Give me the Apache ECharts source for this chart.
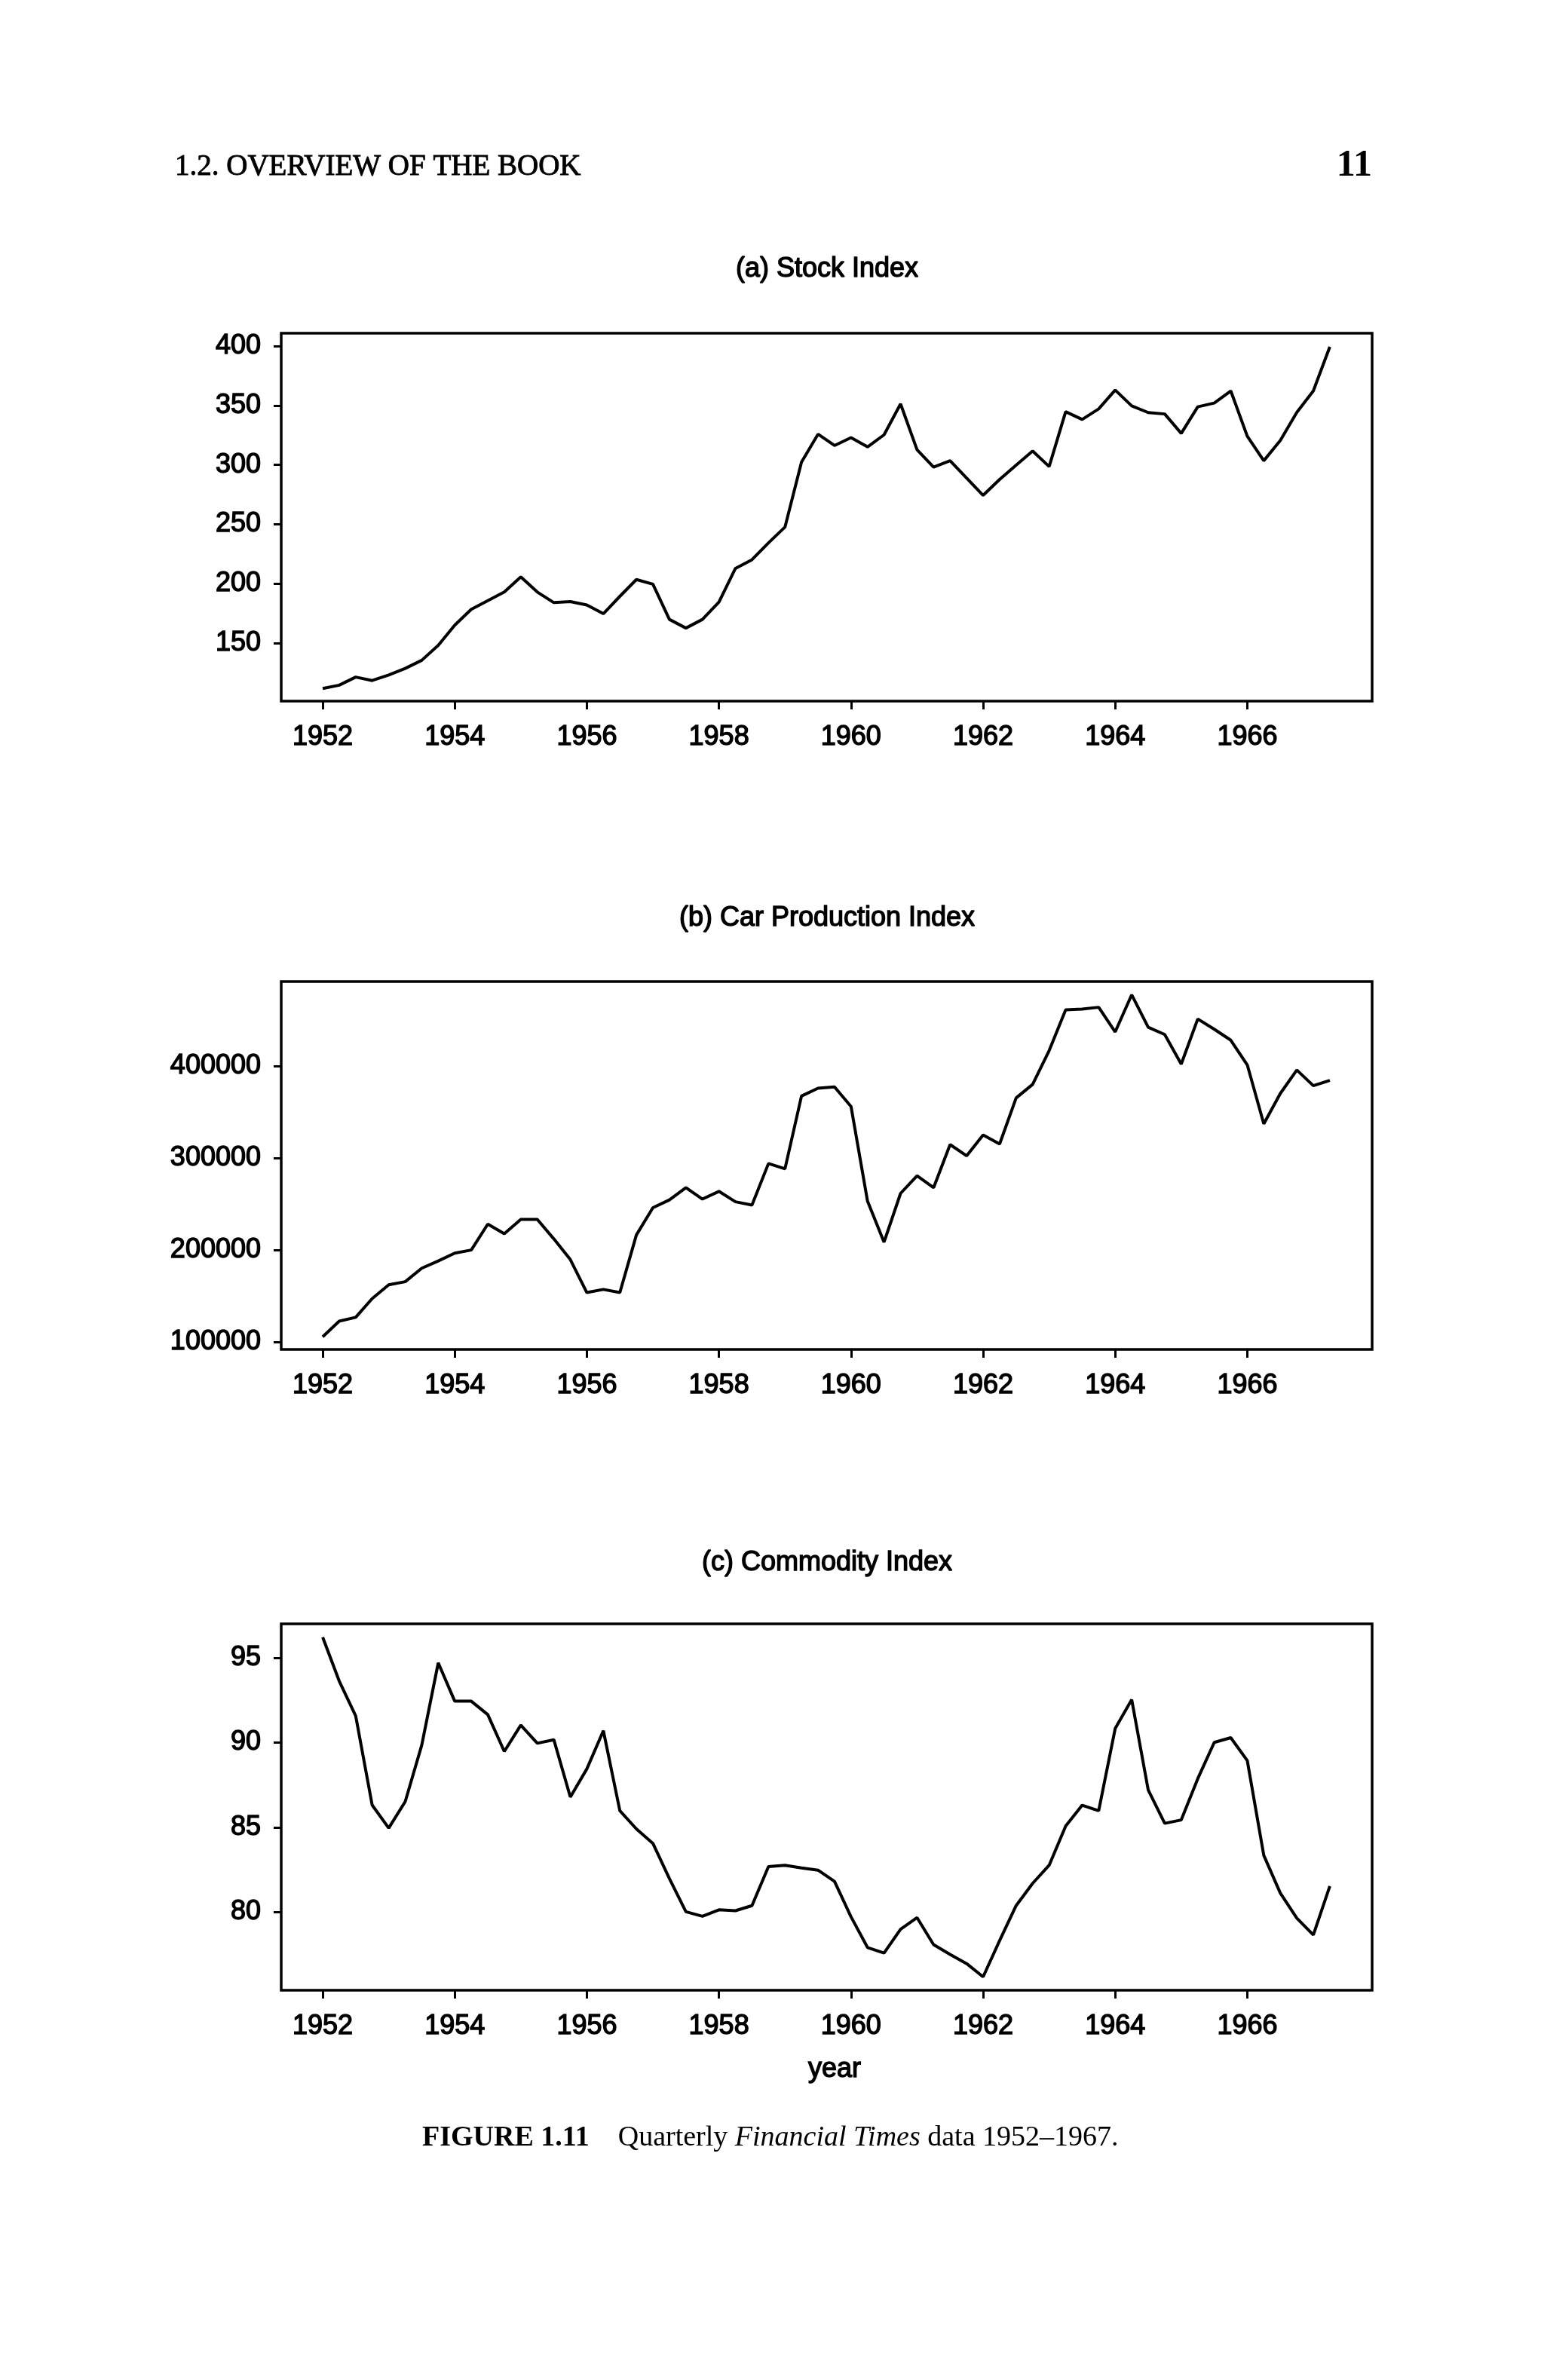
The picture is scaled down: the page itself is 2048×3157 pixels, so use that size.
<!DOCTYPE html>
<html>
<head>
<meta charset="utf-8">
<script src="https://cdn.jsdelivr.net/npm/echarts@6/dist/echarts.min.js"></script>
<style>
html,body{margin:0;padding:0;background:#fff;}
#chart{width:2048px;height:3157px;}
</style>
</head>
<body>
<div id="chart"></div>
<script>
// Quarterly time index (years)
const quarters = [
  1952.00,1952.25,1952.50,1952.75,1953.00,1953.25,1953.50,1953.75,
  1954.00,1954.25,1954.50,1954.75,1955.00,1955.25,1955.50,1955.75,
  1956.00,1956.25,1956.50,1956.75,1957.00,1957.25,1957.50,1957.75,
  1958.00,1958.25,1958.50,1958.75,1959.00,1959.25,1959.50,1959.75,
  1960.00,1960.25,1960.50,1960.75,1961.00,1961.25,1961.50,1961.75,
  1962.00,1962.25,1962.50,1962.75,1963.00,1963.25,1963.50,1963.75,
  1964.00,1964.25,1964.50,1964.75,1965.00,1965.25,1965.50,1965.75,
  1966.00,1966.25,1966.50,1966.75,1967.00,1967.25
];
const stockIndex = [
  112, 114.8, 121.6, 118.7, 123.3, 128.9, 135.7, 148.3, 165.3, 178.6,
  185.9, 193.1, 205.8, 193.1, 184.2, 185.1, 182.2, 174.9, 189.5, 203.6,
  199.7, 170.1, 162.8, 170.1, 184.7, 213.0, 220.3, 234.4, 247.7, 302.3,
  325.8, 316.3, 322.9, 315.1, 325.3, 351.3, 312.7, 298.1, 303.5, 288.9,
  274.4, 287.7, 299.8, 311.7, 298.6, 344.7, 338.2, 347.1, 362.9, 349.6,
  344.0, 342.8, 326.5, 348.8, 352.0, 362.2, 324.1, 303.5, 320.5, 344.2,
  362.2, 399.3
];
const carProduction = [
  105600, 122600, 126800, 147200, 162100, 165500, 180200, 188100, 196600, 200000,
  228200, 217800, 233300, 233300, 212100, 189600, 153700, 157100, 153700, 216400,
  246000, 254500, 267800, 255400, 263800, 252500, 248900, 294100, 288400, 367500,
  376000, 377400, 356200, 253100, 208500, 261600, 280800, 267800, 314700, 302500,
  325100, 315300, 365500, 380200, 417000, 461300, 462200, 464100, 437300, 477700,
  442400, 434500, 402300, 451400, 440200, 428300, 401400, 337300, 370300, 395800,
  378800, 384500
];
const commodityIndex = [
  96.2, 93.62, 91.56, 86.30, 84.95, 86.51, 89.84, 94.69, 92.43, 92.43,
  91.64, 89.47, 91.02, 89.95, 90.16, 86.78, 88.44, 90.69, 85.97, 84.90,
  84.05, 81.97, 80.02, 79.75, 80.13, 80.08, 80.38, 82.68, 82.76, 82.60,
  82.47, 81.81, 79.72, 77.91, 77.58, 78.98, 79.67, 78.08, 77.50, 76.96,
  76.18, 78.32, 80.38, 81.69, 82.76, 85.07, 86.30, 85.97, 90.82, 92.52,
  87.20, 85.23, 85.43, 87.86, 90.00, 90.28, 88.93, 83.34, 81.12, 79.64,
  78.65, 81.53
];
const xTicks = [1952, 1954, 1956, 1958, 1960, 1962, 1964, 1966];
const stockTicks = [150, 200, 250, 300, 350, 400];
const carTicks = [100000, 200000, 300000, 400000];
const commodityTicks = [80, 85, 90, 95];
const panelTitles = ['(a) Stock Index', '(b) Car Production Index', '(c) Commodity Index'];

const chart = echarts.init(document.getElementById('chart'), null, {renderer: 'canvas', width: 2048, height: 3157});

const SANS = '"Liberation Sans", Arial, Helvetica, sans-serif';
const SERIF = '"Liberation Serif", "Times New Roman", serif';
const LEFT = 373, RIGHT = 2048 - 1820;
const grids = [
  {left: LEFT, right: RIGHT, top: 442, height: 488},
  {left: LEFT, right: RIGHT, top: 1302, height: 488},
  {left: LEFT, right: RIGHT, top: 2154, height: 486}
];
const yRanges = [[101.4, 410.7], [91800, 492100], [75.39, 96.99]];
const yTickSets = [stockTicks, carTicks, commodityTicks];
const seriesData = [stockIndex, carProduction, commodityIndex];

const labelStyle = {
  color: '#000', fontFamily: SANS, fontSize: 36,
  textBorderColor: '#000', textBorderWidth: 1.4
};

const option = {
  animation: false,
  backgroundColor: '#fff',
  grid: grids.map(g => Object.assign({show: true, borderColor: '#000', borderWidth: 3.5, backgroundColor: 'transparent'}, g)),
  xAxis: grids.map((g, i) => ({
    type: 'value', gridIndex: i, min: 1951.372, max: 1967.89,
    axisLine: {show: false},
    splitLine: {show: false},
    axisTick: {show: true, inside: false, length: 11, customValues: xTicks, lineStyle: {color: '#000', width: 3}},
    axisLabel: Object.assign({show: true, margin: 30, customValues: xTicks, formatter: v => String(v)}, labelStyle)
  })),
  yAxis: grids.map((g, i) => ({
    type: 'value', gridIndex: i, min: yRanges[i][0], max: yRanges[i][1],
    axisLine: {show: false},
    splitLine: {show: false},
    axisTick: {show: true, inside: false, length: 10, customValues: yTickSets[i], lineStyle: {color: '#000', width: 3}},
    axisLabel: Object.assign({show: true, margin: 27, customValues: yTickSets[i], formatter: v => String(v)}, labelStyle)
  })),
  series: seriesData.map((d, i) => ({
    type: 'line', xAxisIndex: i, yAxisIndex: i,
    data: quarters.map((q, k) => [q, d[k]]),
    symbol: 'none', smooth: false,
    lineStyle: {color: '#000', width: 4},
    z: 3
  })),
  graphic: [
    {type: 'text', x: 232, y: 222, style: {text: '1.2. OVERVIEW OF THE BOOK', fontFamily: SERIF, fontSize: 39, fill: '#000', textAlign: 'left', textVerticalAlign: 'middle', stroke: '#000', lineWidth: 0.9}},
    {type: 'text', x: 1820, y: 220, style: {text: '11', fontFamily: SERIF, fontSize: 50, fontWeight: 'bold', fill: '#000', textAlign: 'right', textVerticalAlign: 'middle'}},
    {type: 'text', x: 1097, y: 357, style: {text: panelTitles[0], fontFamily: SANS, fontSize: 36, fill: '#000', textAlign: 'center', textVerticalAlign: 'middle', stroke: '#000', lineWidth: 1.4}},
    {type: 'text', x: 1097, y: 1218, style: {text: panelTitles[1], fontFamily: SANS, fontSize: 36, fill: '#000', textAlign: 'center', textVerticalAlign: 'middle', stroke: '#000', lineWidth: 1.4}},
    {type: 'text', x: 1097, y: 2073, style: {text: panelTitles[2], fontFamily: SANS, fontSize: 36, fill: '#000', textAlign: 'center', textVerticalAlign: 'middle', stroke: '#000', lineWidth: 1.4}},
    {type: 'text', x: 1107, y: 2745, style: {text: 'year', fontFamily: SANS, fontSize: 36, fill: '#000', textAlign: 'center', textVerticalAlign: 'middle', stroke: '#000', lineWidth: 1.4}},
    {type: 'text', x: 560, y: 2836, style: {
      text: '{b|FIGURE 1.11}{n|    Quarterly }{i|Financial Times}{n| data 1952\u20131967.}',
      fontFamily: SERIF, fontSize: 38, fill: '#000', textAlign: 'left', textVerticalAlign: 'middle',
      rich: {
        b: {fontFamily: SERIF, fontSize: 38, fontWeight: 'bold', fill: '#000'},
        n: {fontFamily: SERIF, fontSize: 38, fill: '#000'},
        i: {fontFamily: SERIF, fontSize: 38, fontStyle: 'italic', fill: '#000'}
      }
    }}
  ]
};
chart.setOption(option);
</script>
</body>
</html>
